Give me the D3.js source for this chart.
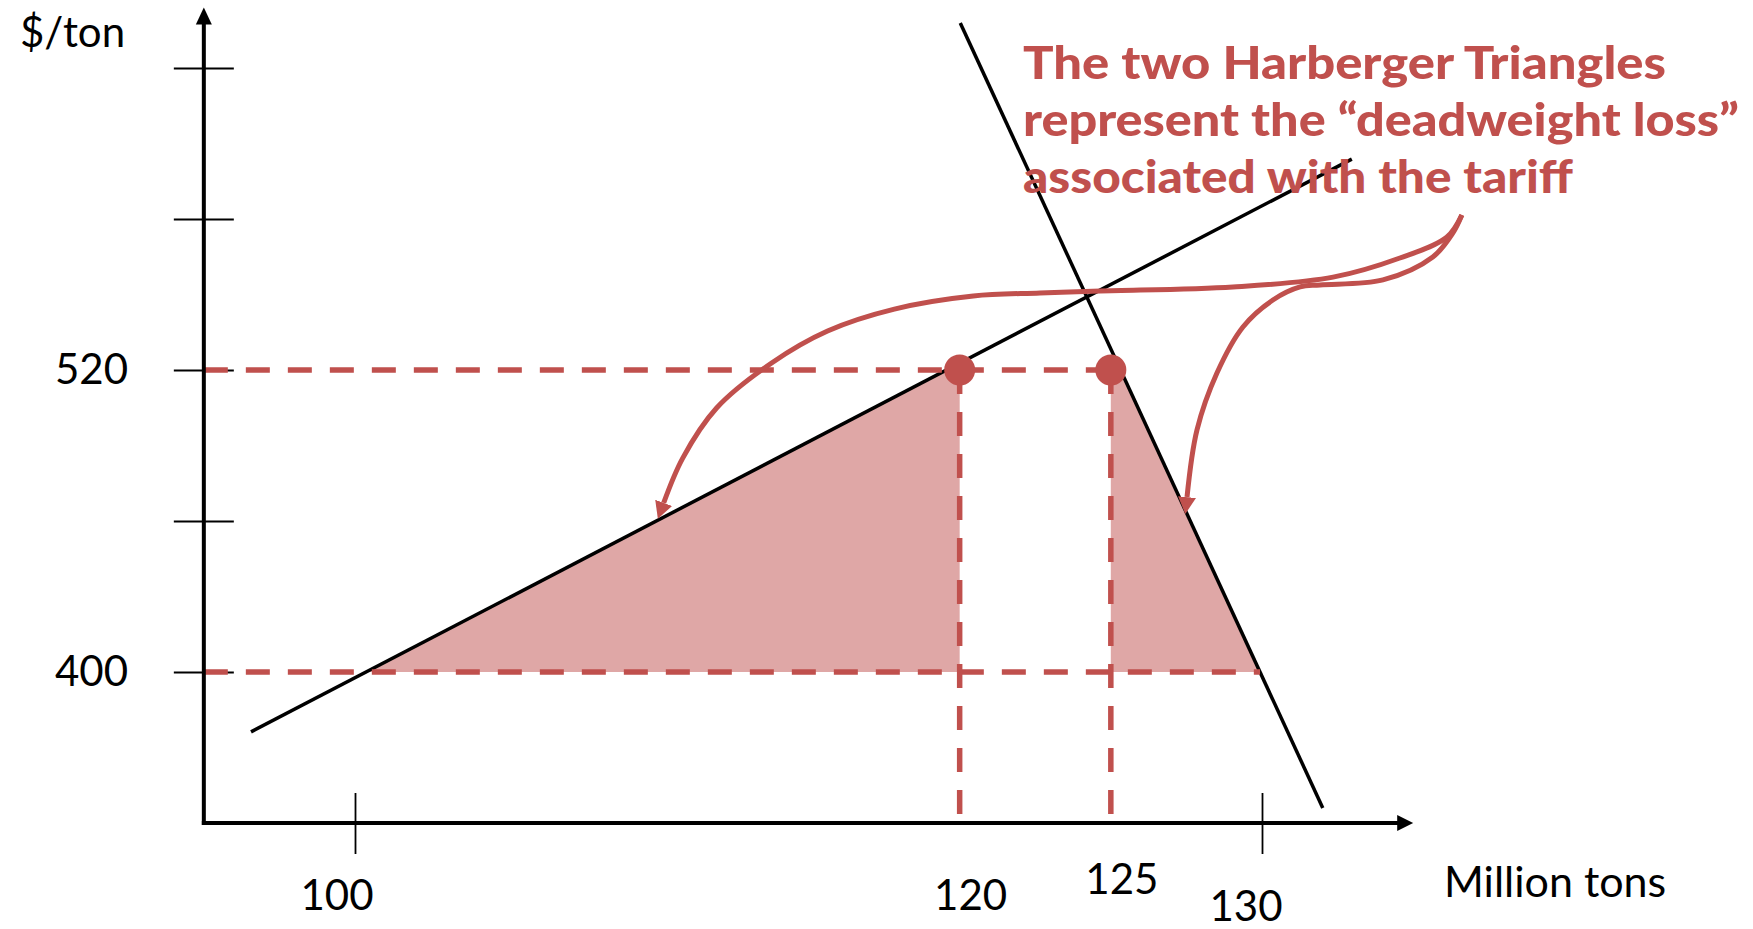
<html>
  <head>
    <meta charset="UTF-8" />
    <script src="https://d3js.org/d3.v7.min.js"></script>
    <style>
      body { margin: 0; background: #fff; }
      svg { display: block; }
      text { font-family: Lato, "Open Sans", sans-serif; fill: #000; }
      .note { fill: #C0504D; font-weight: 900; }
    </style>
  </head>
  <body>
    <div id="chart"></div>
    <script>
      // axis ticks and labels
      var yTicks = [400, 460, 520, 580, 640]
      var xTicks = [100, 130]
      var yLabels = [400, 520]
      var xLabels = [100, 120, 125, 130]

      // tariff price / world price and the quantities at the tariff price
      var prices = [400, 520]
      var quantities = [120, 125]

      // supply and demand lines (end points, million tons / $ per ton)
      var supply = [{q: 96.56, p: 376.2}, {q: 132.97, p: 603.8}]
      var demand = [{q: 120.02, p: 657.9}, {q: 132.01, p: 346.0}]

      // the two hand drawn arrows from the note (in chart units)
      var arrowLeft = [
        [136.61, 581.6], [136.11, 572.8], [134.56, 564.5], [132.35, 556.9],
        [129.04, 553.0], [124.65, 551.4], [122.66, 550.6], [120.45, 549.4],
        [117.84, 544.2], [115.63, 535.5], [113.78, 522.8], [111.96, 504.9],
        [110.84, 485.0], [110.21, 467.2]
      ]
      var arrowRight = [
        [136.61, 581.6], [136.31, 574.4], [135.65, 564.9], [134.00, 555.8],
        [131.92, 553.8], [131.26, 553.0], [130.36, 547.8], [129.37, 537.1],
        [128.51, 518.8], [127.85, 496.2], [127.52, 469.5]
      ]

      var noteLines = [
        "The two Harberger Triangles",
        "represent the \u201cdeadweight loss\u201d",
        "associated with the tariff"
      ]
      var noteWidths = [643, 716, 550]

      var red = "#C0504D"
      var pink = "#DFA7A6"

      var width = 1753
      var height = 929

      var svg = d3.select("#chart")
        .append("svg")
        .attr("width", width)
        .attr("height", height)

      var x = d3.scaleLinear().domain([100, 130]).range([355, 1262])
      var y = d3.scaleLinear().domain([400, 520]).range([672, 370])

      var q0 = 95, p0 = 340
      var qEnd = 135, pTop = 664

      // helpers to read along a straight line
      function qAt(line, p) {
        var a = line[0], b = line[1]
        return a.q + (p - a.p) / (b.p - a.p) * (b.q - a.q)
      }
      function pAt(line, q) {
        var a = line[0], b = line[1]
        return a.p + (q - a.q) / (b.q - a.q) * (b.p - a.p)
      }

      // shaded triangles
      var leftTri = [
        [qAt(supply, prices[0]), prices[0]],
        [quantities[0], pAt(supply, quantities[0])],
        [quantities[0], prices[0]]
      ]
      var rightTri = [
        [quantities[1], prices[1]],
        [qAt(demand, prices[1]), prices[1]],
        [qAt(demand, prices[0]), prices[0]],
        [quantities[1], prices[0]]
      ]
      var poly = d3.line().x(function(d) { return x(d[0]) }).y(function(d) { return y(d[1]) })

      svg.selectAll(".tri")
        .data([leftTri, rightTri])
        .enter().append("path")
        .attr("class", "tri")
        .attr("d", function(d) { return poly(d) + "Z" })
        .attr("fill", pink)

      // tick marks through the axes
      svg.append("g")
        .attr("transform", "translate(" + (x(q0) + 30) + ",0)")
        .call(d3.axisLeft(y).tickValues(yTicks).tickSize(60).tickFormat(""))
        .call(function(g) { g.select(".domain").remove() })
        .selectAll("line").attr("stroke", "#000").attr("stroke-width", 1.8)

      svg.append("g")
        .attr("transform", "translate(0," + (y(p0) - 30) + ")")
        .call(d3.axisBottom(x).tickValues(xTicks).tickSize(61).tickFormat(""))
        .call(function(g) { g.select(".domain").remove() })
        .selectAll("line").attr("stroke", "#000").attr("stroke-width", 1.8)

      // supply and demand
      svg.selectAll(".sd")
        .data([supply, demand])
        .enter().append("line")
        .attr("class", "sd")
        .attr("x1", function(d) { return x(d[0].q) })
        .attr("y1", function(d) { return y(d[0].p) })
        .attr("x2", function(d) { return x(d[1].q) })
        .attr("y2", function(d) { return y(d[1].p) })
        .attr("stroke", "#000")
        .attr("stroke-width", 3.5)

      // dashed guides
      var hGuides = [
        {p: prices[1], q: quantities[1]},
        {p: prices[0], q: qAt(demand, prices[0])}
      ]
      svg.selectAll(".hg")
        .data(hGuides)
        .enter().append("line")
        .attr("x1", x(q0))
        .attr("x2", function(d) { return x(d.q) })
        .attr("y1", function(d) { return y(d.p) })
        .attr("y2", function(d) { return y(d.p) })
        .attr("stroke", red)
        .attr("stroke-width", 5.5)
        .attr("stroke-dasharray", "24,18")

      svg.selectAll(".vg")
        .data(quantities)
        .enter().append("line")
        .attr("x1", function(d) { return x(d) })
        .attr("x2", function(d) { return x(d) })
        .attr("y1", y(prices[1]))
        .attr("y2", y(p0))
        .attr("stroke", red)
        .attr("stroke-width", 5.5)
        .attr("stroke-dasharray", "24,18")

      // axes with arrow heads
      svg.append("line")
        .attr("x1", x(q0)).attr("x2", x(q0))
        .attr("y1", y(p0) + 2).attr("y2", y(pTop) + 14)
        .attr("stroke", "#000").attr("stroke-width", 4)
      svg.append("path")
        .attr("d", "M" + x(q0) + "," + y(pTop) + "l-8,17h16Z")
        .attr("fill", "#000")

      svg.append("line")
        .attr("x1", x(q0) - 2).attr("x2", x(qEnd) - 14)
        .attr("y1", y(p0)).attr("y2", y(p0))
        .attr("stroke", "#000").attr("stroke-width", 4)
      svg.append("path")
        .attr("d", "M" + x(qEnd) + "," + y(p0) + "l-16,-8v16Z")
        .attr("fill", "#000")

      // points at the tariff price
      svg.selectAll(".dot")
        .data(quantities)
        .enter().append("circle")
        .attr("cx", function(d) { return x(d) })
        .attr("cy", y(prices[1]))
        .attr("r", 15.5)
        .attr("fill", red)

      // curved arrows from the note
      svg.append("defs").append("marker")
        .attr("id", "head")
        .attr("markerUnits", "userSpaceOnUse")
        .attr("markerWidth", 20).attr("markerHeight", 20)
        .attr("refX", 0).attr("refY", 9)
        .attr("orient", "auto")
        .append("path")
        .attr("d", "M0,0L17,9L0,18Z")
        .attr("fill", red)

      var curve = d3.line()
        .x(function(d) { return x(d[0]) })
        .y(function(d) { return y(d[1]) })
        .curve(d3.curveCatmullRom.alpha(0.5))

      svg.selectAll(".arrow")
        .data([arrowLeft, arrowRight])
        .enter().append("path")
        .attr("d", curve)
        .attr("fill", "none")
        .attr("stroke", red)
        .attr("stroke-width", 5)
        .attr("marker-end", "url(#head)")

      // labels
      svg.append("text")
        .attr("x", 20).attr("y", 47)
        .style("font-size", "42px")
        .text("$/ton")

      svg.selectAll(".ylab")
        .data(yLabels)
        .enter().append("text")
        .attr("x", 128)
        .attr("y", function(d) { return y(d) + 14 })
        .attr("text-anchor", "end")
        .style("font-size", "42px")
        .text(function(d) { return d })

      var xLabelShift = {100: [-18, 910], 120: [11, 910], 125: [11, 894], 130: [-16, 921]}
      svg.selectAll(".xlab")
        .data(xLabels)
        .enter().append("text")
        .attr("x", function(d) { return x(d) + xLabelShift[d][0] })
        .attr("y", function(d) { return xLabelShift[d][1] })
        .attr("text-anchor", "middle")
        .style("font-size", "42px")
        .text(function(d) { return d })

      svg.append("text")
        .attr("x", 1444).attr("y", 897)
        .style("font-size", "43px")
        .text("Million tons")

      svg.selectAll(".note")
        .data(noteLines)
        .enter().append("text")
        .attr("class", "note")
        .attr("x", 1023)
        .attr("y", function(d, i) { return 79 + i * 57 })
        .attr("textLength", function(d, i) { return noteWidths[i] })
        .attr("lengthAdjust", "spacingAndGlyphs")
        .style("font-size", "46px")
        .text(function(d) { return d })
    </script>
  </body>
</html>
